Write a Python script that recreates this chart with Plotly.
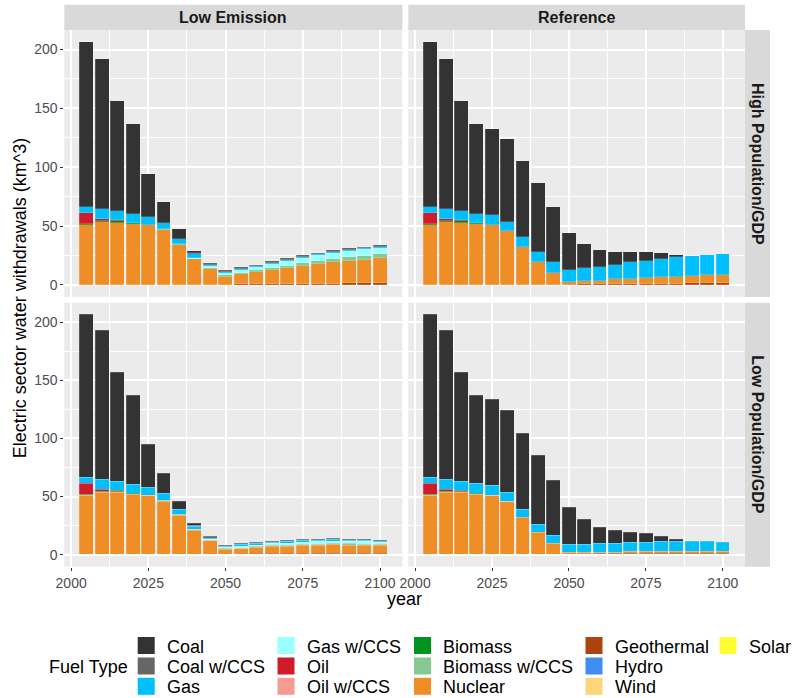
import plotly.graph_objects as go
from plotly.subplots import make_subplots

W, H = 794, 698

years = list(range(2005, 2101, 5))

fuels = ["Coal", "Coal w/CCS", "Gas", "Gas w/CCS", "Oil", "Oil w/CCS",
         "Biomass", "Biomass w/CCS", "Nuclear", "Geothermal", "Hydro", "Wind", "Solar"]
fuel_colors = {
    "Coal": "#333333", "Coal w/CCS": "#666666", "Gas": "#00BFFF", "Gas w/CCS": "#99FFFF",
    "Oil": "#D01C2A", "Oil w/CCS": "#F79A94", "Biomass": "#00931D", "Biomass w/CCS": "#88C892",
    "Nuclear": "#EF8E27", "Geothermal": "#AD440C", "Hydro": "#3E8DF3", "Wind": "#FDD67B",
    "Solar": "#FEFE33",
}

scenarios = ["Low Emission", "Reference"]
populations = ["High Population/GDP", "Low Population/GDP"]

# Low Emission / High Population
le_hi = {
    "Coal":          [139.7, 127.9, 93.1, 76.5, 36.8, 18.0, 8.3, 1.5, 0, 0, 0, 0, 0, 0, 0, 0, 0, 0, 0, 0],
    "Coal w/CCS":    [0, 0, 0, 0, 0, 0, 0, 0.8, 1.1, 1.0, 0.9, 0.9, 1.1, 1.2, 1.2, 1.3, 1.3, 1.4, 1.4, 1.4],
    "Gas":           [5.2, 8.3, 7.9, 8.0, 6.5, 5.4, 4.5, 3.4, 1.3, 1.5, 1.4, 1.1, 1.1, 1.0, 1.0, 1.0, 1.0, 0.9, 0.9, 0.9],
    "Gas w/CCS":     [0, 0, 0, 0, 0, 0, 0, 0.5, 1.5, 1.7, 2.2, 2.8, 3.4, 4.0, 4.5, 5.0, 5.0, 5.2, 5.8, 5.7],
    "Oil":           [9.5, 1.7, 1.2, 0, 0, 0, 0, 0, 0, 0, 0, 0, 0, 0, 0, 0, 0, 0, 0, 0],
    "Biomass":       [0.8, 0.8, 0.9, 0.5, 0.6, 0, 0, 0, 0, 0, 0, 0, 0, 0, 0, 0, 0, 0, 0, 0],
    "Biomass w/CCS": [0, 0, 0, 0, 0, 0.6, 0.6, 0.6, 0.7, 1.0, 1.2, 1.5, 1.8, 2.1, 2.4, 2.7, 2.9, 3.1, 3.3, 3.4],
    "Nuclear":       [50.8, 53.3, 52.7, 51.5, 50.4, 46.4, 33.9, 21.4, 13.3, 6.8, 8.6, 10.2, 11.8, 13.4, 15.1, 16.4, 18.3, 19.3, 19.6, 20.7],
    "Geothermal":    [0.3, 0.3, 0.3, 0.3, 0.3, 0.3, 0.3, 0.3, 0.3, 0.3, 0.5, 0.6, 0.7, 0.8, 0.9, 1.0, 1.1, 1.2, 1.5, 1.8],
}

# Reference / High Population
re_hi = {
    "Coal":       [139.7, 127.9, 93.1, 76.5, 73.5, 70.1, 65.0, 58.4, 47.0, 31.6, 20.8, 14.2, 10.8, 8.8, 7.4, 4.9, 1.7, 0.3, 0, 0],
    "Gas":        [5.2, 8.3, 7.9, 8.0, 8.0, 7.6, 8.2, 8.5, 9.4, 10.2, 11.0, 11.7, 12.5, 14.0, 14.8, 15.3, 16.3, 16.5, 17.1, 17.4],
    "Oil":        [9.5, 1.7, 1.2, 0, 0, 0, 0, 0, 0, 0, 0, 0, 0, 0, 0, 0, 0, 0, 0, 0],
    "Biomass":    [0.8, 0.8, 0.9, 0.5, 0.6, 0.6, 0.6, 0, 0, 0, 0, 0, 0, 0, 0, 0, 0, 0, 0, 0.3],
    "Nuclear":    [50.8, 53.3, 52.7, 51.5, 50.4, 45.3, 31.6, 19.1, 9.7, 2.3, 2.5, 3.1, 3.9, 4.3, 4.8, 5.6, 6.0, 6.5, 7.0, 7.3],
    "Geothermal": [0.3, 0.3, 0.3, 0.3, 0.3, 0.3, 0.3, 0.3, 0.3, 0.3, 0.5, 0.6, 0.7, 0.8, 0.9, 1.0, 1.1, 1.2, 1.3, 1.2],
}

# Low Emission / Low Population
le_lo = {
    "Coal":          [139.7, 128.5, 93.6, 76.6, 36.4, 17.2, 7.5, 1.7, 0, 0, 0, 0, 0, 0, 0, 0, 0, 0, 0, 0],
    "Coal w/CCS":    [0, 0, 0, 0, 0, 0, 0, 1.2, 1.1, 0.8, 0.9, 0.9, 0.9, 0.9, 1.0, 0.9, 0.9, 0.9, 0.9, 0.8],
    "Gas":           [5.2, 8.3, 7.9, 8.0, 6.7, 5.9, 4.4, 2.3, 1.2, 1.2, 1.3, 1.4, 1.1, 1.2, 1.2, 1.0, 1.1, 1.1, 1.0, 1.0],
    "Gas w/CCS":     [0, 0, 0, 0, 0, 0, 0, 0.3, 0.6, 1.1, 1.3, 1.5, 1.6, 1.8, 1.9, 1.9, 2.0, 2.0, 1.9, 1.8],
    "Oil":           [9.5, 1.7, 1.2, 0, 0, 0, 0, 0, 0, 0, 0, 0, 0, 0, 0, 0, 0, 0, 0, 0],
    "Biomass":       [0.8, 0.8, 0.9, 0.5, 0.6, 0, 0, 0, 0, 0, 0, 0, 0, 0, 0, 0, 0, 0, 0, 0],
    "Biomass w/CCS": [0, 0, 0, 0, 0, 0.6, 0.6, 0.5, 0.5, 0.6, 0.7, 0.8, 0.9, 1.0, 1.0, 1.0, 1.1, 1.1, 1.0, 1.0],
    "Nuclear":       [50.8, 53.3, 52.7, 51.5, 50.2, 45.6, 33.1, 20.5, 11.4, 4.0, 4.5, 5.2, 6.0, 6.4, 6.9, 7.1, 7.3, 7.0, 6.9, 6.6],
    "Geothermal":    [0.3, 0.3, 0.3, 0.3, 0.3, 0.3, 0.3, 0.3, 0.3, 0.3, 0.4, 0.5, 0.6, 0.7, 0.8, 0.9, 1.0, 1.0, 1.1, 1.1],
}

# Reference / Low Population
re_lo = {
    "Coal":       [139.7, 128.5, 93.6, 76.1, 74.1, 70.4, 65.3, 58.7, 47.3, 31.7, 21.2, 14.3, 10.8, 8.8, 7.1, 4.6, 1.4, 0, 0, 0],
    "Gas":        [5.2, 8.3, 7.9, 8.0, 8.0, 7.2, 6.9, 6.9, 7.2, 7.1, 7.1, 7.4, 7.7, 8.0, 8.0, 8.2, 8.8, 8.2, 7.9, 7.4],
    "Oil":        [9.5, 1.7, 1.2, 0, 0, 0, 0, 0, 0, 0, 0, 0, 0, 0, 0, 0, 0, 0, 0, 0],
    "Biomass":    [0.8, 0.8, 0.9, 0.9, 0.6, 0.3, 0, 0, 0, 0, 0, 0, 0, 0, 0, 0, 0, 0, 0, 0],
    "Nuclear":    [50.8, 53.3, 52.7, 51.6, 50.2, 45.3, 31.9, 18.8, 8.8, 1.4, 1.3, 1.2, 1.4, 1.6, 1.8, 1.7, 1.6, 1.6, 1.8, 1.8],
    "Geothermal": [0.3, 0.3, 0.3, 0.3, 0.3, 0.3, 0.3, 0.3, 0.3, 0.3, 0.4, 0.5, 0.6, 0.7, 0.8, 0.9, 1.0, 1.0, 1.1, 1.1],
}

x_ticks = [2000, 2025, 2050, 2075, 2100]
y_ticks = [0, 50, 100, 150, 200]

panels = {(1, 1): le_hi, (1, 2): re_hi, (2, 1): le_lo, (2, 2): re_lo}

fig = make_subplots(rows=2, cols=2)

for (r, c), data in panels.items():
    for fuel in reversed(fuels):
        if fuel not in data:
            continue
        vals = [v if v > 0 else None for v in data[fuel]]
        fig.add_trace(go.Bar(
            x=years, y=vals, width=4.5, name=fuel, legendgroup=fuel,
            marker=dict(color=fuel_colors[fuel], line=dict(width=0.5, color="rgba(255,255,255,0.35)")),
            showlegend=False,
        ), row=r, col=c)

def px_x(p):
    return p / W

def px_y(p):
    return 1 - p / H

# panel geometry (pixels)
left_x = (64.3, 402.3)
right_x = (408.3, 745.0)
top_y = (30.0, 297.0)
bot_y = (302.7, 566.7)

dom = {
    (1, 1): (left_x, top_y), (1, 2): (right_x, top_y),
    (2, 1): (left_x, bot_y), (2, 2): (right_x, bot_y),
}
axis_ids = {(1, 1): "", (1, 2): "2", (2, 1): "3", (2, 2): "4"}

tick_font = dict(family="Liberation Sans, Arial, sans-serif", size=14, color="#4D4D4D")

for key, (xs, ys) in dom.items():
    aid = axis_ids[key]
    r, c = key
    fig.layout["xaxis" + aid].update(
        domain=[px_x(xs[0]), px_x(xs[1])], automargin=False,
        range=[1997.78, 2107.22], tickvals=x_ticks,
        showticklabels=(r == 2), ticks="outside" if r == 2 else "",
        ticklen=3, tickcolor="#333333", tickwidth=1, tickfont=tick_font,
        showgrid=True, gridcolor="white", gridwidth=1.6, zeroline=False,
        showline=False,
        minor=dict(tickvals=[2012.5, 2037.5, 2062.5, 2087.5], showgrid=True,
                   gridcolor="white", gridwidth=0.8),
    )
    fig.layout["yaxis" + aid].update(
        domain=[px_y(ys[1]), px_y(ys[0])], automargin=False,
        range=[-10.3, 216.6], tickvals=y_ticks,
        showticklabels=(c == 1), ticks="outside" if c == 1 else "",
        ticklen=3, tickcolor="#333333", tickwidth=1, tickfont=tick_font,
        showgrid=True, gridcolor="white", gridwidth=1.6, zeroline=False,
        showline=False,
        minor=dict(tickvals=[25, 75, 125, 175], showgrid=True,
                   gridcolor="white", gridwidth=0.8),
    )

shapes = []
annotations = []
strip_fill = "#D9D9D9"
strip_font = dict(family="Liberation Sans, Arial, sans-serif", size=16, color="#1A1A1A")

# top strips
for xs, label in zip([left_x, right_x], scenarios):
    shapes.append(dict(type="rect", xref="paper", yref="paper",
                       x0=px_x(xs[0]), x1=px_x(xs[1]), y0=px_y(30.0), y1=px_y(4.7),
                       fillcolor=strip_fill, line=dict(width=0), layer="below"))
    annotations.append(dict(text="<b>" + label + "</b>", xref="paper", yref="paper",
                            x=px_x((xs[0] + xs[1]) / 2), y=px_y(17.4),
                            xanchor="center", yanchor="middle", showarrow=False, font=strip_font))
# right strips
for ys, label in zip([top_y, bot_y], populations):
    shapes.append(dict(type="rect", xref="paper", yref="paper",
                       x0=px_x(745.0), x1=px_x(770.0), y0=px_y(ys[1]), y1=px_y(ys[0]),
                       fillcolor=strip_fill, line=dict(width=0), layer="below"))
    annotations.append(dict(text="<b>" + label + "</b>", xref="paper", yref="paper",
                            x=px_x(757.5), y=px_y((ys[0] + ys[1]) / 2), textangle=90,
                            xanchor="center", yanchor="middle", showarrow=False, font=strip_font))

title_font = dict(family="Liberation Sans, Arial, sans-serif", size=18, color="#000000")
annotations.append(dict(text="Electric sector water withdrawals (km^3)", xref="paper", yref="paper",
                        x=px_x(20), y=px_y((30 + 566.7) / 2), textangle=-90,
                        xanchor="center", yanchor="middle", showarrow=False, font=title_font))
annotations.append(dict(text="year", xref="paper", yref="paper",
                        x=px_x((64.3 + 745) / 2), y=px_y(599), xanchor="center", yanchor="middle",
                        showarrow=False, font=title_font))

# manual legend
legend_font = dict(family="Liberation Sans, Arial, sans-serif", size=18, color="#000000")
annotations.append(dict(text="Fuel Type", xref="paper", yref="paper", x=px_x(46.6), y=px_y(667),
                        xanchor="left", yanchor="middle", showarrow=False, font=legend_font))
legend_cols = [fuels[0:3], fuels[3:6], fuels[6:9], fuels[9:12], fuels[12:13]]
key_left = [137.7, 277.5, 414.0, 585.5, 719.5]
row_center = [645.5, 666.0, 686.3]
key = 17.0
for ci, col in enumerate(legend_cols):
    for ri, fuel in enumerate(col):
        kx = key_left[ci]
        cy = row_center[ri]
        shapes.append(dict(type="rect", xref="paper", yref="paper",
                           x0=px_x(kx), x1=px_x(kx + key), y0=px_y(cy + key / 2), y1=px_y(cy - key / 2),
                           fillcolor=fuel_colors[fuel], line=dict(width=0)))
        annotations.append(dict(text=fuel, xref="paper", yref="paper",
                                x=px_x(kx + key + 10), y=px_y(cy + 1), xanchor="left", yanchor="middle",
                                showarrow=False, font=legend_font))

fig.update_layout(
    width=W, height=H, margin=dict(l=0, r=0, t=0, b=0, autoexpand=False),
    paper_bgcolor="white", plot_bgcolor="#EBEBEB",
    barmode="stack", bargap=0, showlegend=False,
    shapes=shapes, annotations=annotations,
    font=dict(family="Liberation Sans, Arial, sans-serif"),
)

fig.write_html("out.html")
